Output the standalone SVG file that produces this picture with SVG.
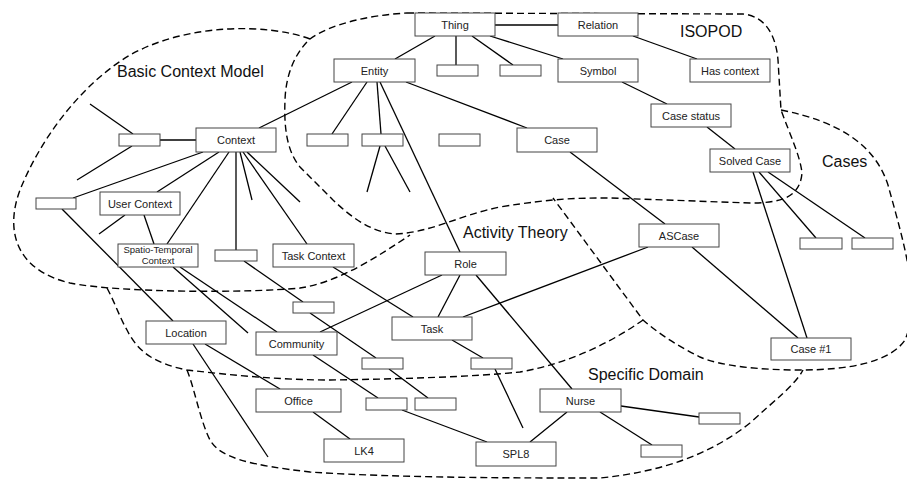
<svg xmlns="http://www.w3.org/2000/svg" width="907" height="483" viewBox="0 0 907 483">
<style>
.n rect{fill:#fff;stroke:#444;stroke-width:1}
.n text{font-family:"Liberation Sans",Arial,sans-serif;font-size:11px;fill:#222;text-anchor:middle}
.c line{stroke:#000;stroke-width:1.3}
.r path{fill:none;stroke:#000;stroke-width:1.4;stroke-dasharray:7,4}
.lbl{font-family:"Liberation Sans",Arial,sans-serif;font-size:16px;fill:#111}
</style>
<rect width="907" height="483" fill="#fff"/>
<g id="regions" class="r">
<path d="M310,39 C270,24 190,22 130,55 C80,85 40,140 20,190 C5,230 15,270 70,283 C120,293 250,293 300,288 C340,282 380,255 410,235"/>
<path d="M407,13 L743,14 C765,16 776,35 778,60 L781,110 C790,135 800,155 802,173 C800,198 780,203 750,203 L610,198 C580,198 555,198 500,207 C460,215 430,233 395,234 C370,232 350,216 333,200 L300,167 C286,150 284,125 285,100 C286,70 298,50 310,39 C330,24 370,15 407,13 Z"/>
<path d="M781,110 C840,122 875,145 888,185 C903,240 922,300 905,340 C890,362 850,370 800,370 C760,370 720,366 700,357 C680,347 660,335 643,320 L553,198"/>
<path d="M107,288 C115,303 120,318 127,330 C137,350 152,363 187,370 C230,375 280,380 330,380 C400,379 470,377 520,372 C570,363 610,343 643,320"/>
<path d="M187,370 C195,390 200,420 210,440 C220,458 250,465 310,472 C400,478 520,478 600,478 C660,472 710,455 750,423 C775,400 795,385 803,370"/>
</g>
<g id="region-labels">
<text class="lbl" x="117" y="77">Basic Context Model</text>
<text class="lbl" x="680" y="37">ISOPOD</text>
<text class="lbl" x="822" y="167">Cases</text>
<text class="lbl" x="463" y="238">Activity Theory</text>
<text class="lbl" x="588" y="380">Specific Domain</text>
</g>
<g id="connectors" class="c">
<line x1="495" y1="25" x2="558" y2="25"/>
<line x1="435" y1="36" x2="395" y2="59"/>
<line x1="456" y1="36" x2="456" y2="65"/>
<line x1="472" y1="36" x2="513" y2="65"/>
<line x1="490" y1="36" x2="563" y2="59"/>
<line x1="633" y1="36" x2="697" y2="59"/>
<line x1="622" y1="82" x2="667" y2="104"/>
<line x1="707" y1="127" x2="735" y2="149"/>
<line x1="352" y1="82" x2="259" y2="128"/>
<line x1="367" y1="82" x2="332" y2="134"/>
<line x1="377" y1="82" x2="381" y2="134"/>
<line x1="380" y1="82" x2="460" y2="252"/>
<line x1="406" y1="82" x2="527" y2="128"/>
<line x1="380" y1="146" x2="367" y2="192"/>
<line x1="385" y1="146" x2="410" y2="192"/>
<line x1="570" y1="152" x2="665" y2="224"/>
<line x1="753" y1="172" x2="807" y2="338"/>
<line x1="759" y1="172" x2="816" y2="238"/>
<line x1="768" y1="172" x2="865" y2="238"/>
<line x1="692" y1="247" x2="798" y2="338"/>
<line x1="648" y1="247" x2="463" y2="317"/>
<line x1="90" y1="104" x2="133" y2="134"/>
<line x1="160" y1="140" x2="196" y2="140"/>
<line x1="132" y1="146" x2="77" y2="180"/>
<line x1="203" y1="152" x2="73" y2="198"/>
<line x1="219" y1="152" x2="157" y2="192"/>
<line x1="229" y1="152" x2="167" y2="244"/>
<line x1="236" y1="152" x2="236" y2="250"/>
<line x1="240" y1="152" x2="252" y2="200"/>
<line x1="243" y1="152" x2="307" y2="244"/>
<line x1="247" y1="152" x2="300" y2="202"/>
<line x1="125" y1="215" x2="99" y2="234"/>
<line x1="144" y1="215" x2="154" y2="244"/>
<line x1="62" y1="209" x2="173" y2="321"/>
<line x1="173" y1="267" x2="248" y2="333"/>
<line x1="180" y1="267" x2="277" y2="332"/>
<line x1="333" y1="267" x2="413" y2="317"/>
<line x1="244" y1="261" x2="303" y2="302"/>
<line x1="310" y1="313" x2="376" y2="358"/>
<line x1="320" y1="332" x2="442" y2="275"/>
<line x1="460" y1="275" x2="438" y2="317"/>
<line x1="476" y1="275" x2="572" y2="389"/>
<line x1="313" y1="355" x2="378" y2="398"/>
<line x1="193" y1="344" x2="268" y2="457"/>
<line x1="205" y1="344" x2="280" y2="389"/>
<line x1="313" y1="412" x2="350" y2="439"/>
<line x1="389" y1="369" x2="428" y2="398"/>
<line x1="452" y1="340" x2="483" y2="358"/>
<line x1="495" y1="369" x2="523" y2="428"/>
<line x1="402" y1="410" x2="487" y2="442"/>
<line x1="567" y1="412" x2="530" y2="442"/>
<line x1="621" y1="406" x2="699" y2="417"/>
<line x1="600" y1="412" x2="652" y2="445"/>
</g>
<g id="thing" class="n"><rect x="415" y="13" width="80" height="23"/><text x="455" y="29">Thing</text></g>
<g id="relation" class="n"><rect x="558" y="13" width="80" height="23"/><text x="598" y="29">Relation</text></g>
<g id="entity" class="n"><rect x="334" y="59" width="81" height="23"/><text x="374.5" y="75">Entity</text></g>
<g id="thing-sub1" class="n"><rect x="437" y="65" width="41" height="11"/></g>
<g id="thing-sub2" class="n"><rect x="500" y="65" width="41" height="11"/></g>
<g id="symbol" class="n"><rect x="558" y="59" width="80" height="23"/><text x="598" y="75">Symbol</text></g>
<g id="has-context" class="n"><rect x="690" y="59" width="80" height="23"/><text x="730" y="75">Has context</text></g>
<g id="case-status" class="n"><rect x="651" y="104" width="80" height="23"/><text x="691" y="120">Case status</text></g>
<g id="solved-case" class="n"><rect x="710" y="149" width="80" height="23"/><text x="750" y="165">Solved Case</text></g>
<g id="entity-sub1" class="n"><rect x="307" y="134" width="41" height="12"/></g>
<g id="entity-sub2" class="n"><rect x="362" y="134" width="41" height="12"/></g>
<g id="entity-sub3" class="n"><rect x="439" y="134" width="41" height="12"/></g>
<g id="case" class="n"><rect x="517" y="128" width="80" height="24"/><text x="557" y="144">Case</text></g>
<g id="context-sub" class="n"><rect x="119" y="134" width="41" height="12"/></g>
<g id="context" class="n"><rect x="196" y="128" width="80" height="24"/><text x="236" y="144">Context</text></g>
<g id="left-sub" class="n"><rect x="36" y="198" width="40" height="11"/></g>
<g id="user-context" class="n"><rect x="100" y="192" width="80" height="23"/><text x="140" y="208">User Context</text></g>
<g id="spatio-temporal" class="n"><rect x="118" y="244" width="80" height="23"/><text x="158" y="253" style="font-size:9.5px">Spatio-Temporal</text><text x="158" y="264" style="font-size:9.5px">Context</text></g>
<g id="context-sub2" class="n"><rect x="215" y="250" width="42" height="11"/></g>
<g id="task-context" class="n"><rect x="273" y="244" width="81" height="23"/><text x="313.5" y="260">Task Context</text></g>
<g id="ascase" class="n"><rect x="639" y="224" width="80" height="23"/><text x="679" y="240">ASCase</text></g>
<g id="cases-sub1" class="n"><rect x="800" y="238" width="42" height="11"/></g>
<g id="cases-sub2" class="n"><rect x="852" y="238" width="41" height="11"/></g>
<g id="role" class="n"><rect x="425" y="252" width="81" height="23"/><text x="465.5" y="268">Role</text></g>
<g id="activity-sub1" class="n"><rect x="293" y="302" width="41" height="11"/></g>
<g id="task" class="n"><rect x="392" y="317" width="80" height="23"/><text x="432" y="333">Task</text></g>
<g id="location" class="n"><rect x="146" y="321" width="80" height="23"/><text x="186" y="337">Location</text></g>
<g id="community" class="n"><rect x="256" y="332" width="81" height="23"/><text x="296.5" y="348">Community</text></g>
<g id="activity-sub2" class="n"><rect x="362" y="358" width="41" height="11"/></g>
<g id="activity-sub3" class="n"><rect x="471" y="358" width="41" height="11"/></g>
<g id="case1" class="n"><rect x="771" y="338" width="80" height="22"/><text x="811" y="353">Case #1</text></g>
<g id="office" class="n"><rect x="256" y="389" width="85" height="23"/><text x="298.5" y="405">Office</text></g>
<g id="domain-sub1" class="n"><rect x="366" y="398" width="41" height="12"/></g>
<g id="domain-sub2" class="n"><rect x="415" y="398" width="41" height="12"/></g>
<g id="nurse" class="n"><rect x="540" y="389" width="81" height="23"/><text x="580.5" y="405">Nurse</text></g>
<g id="domain-sub3" class="n"><rect x="699" y="413" width="41" height="11"/></g>
<g id="domain-sub4" class="n"><rect x="641" y="445" width="41" height="12"/></g>
<g id="lk4" class="n"><rect x="324" y="439" width="80" height="23"/><text x="364" y="455">LK4</text></g>
<g id="spl8" class="n"><rect x="476" y="442" width="80" height="24"/><text x="516" y="458">SPL8</text></g>
</svg>
